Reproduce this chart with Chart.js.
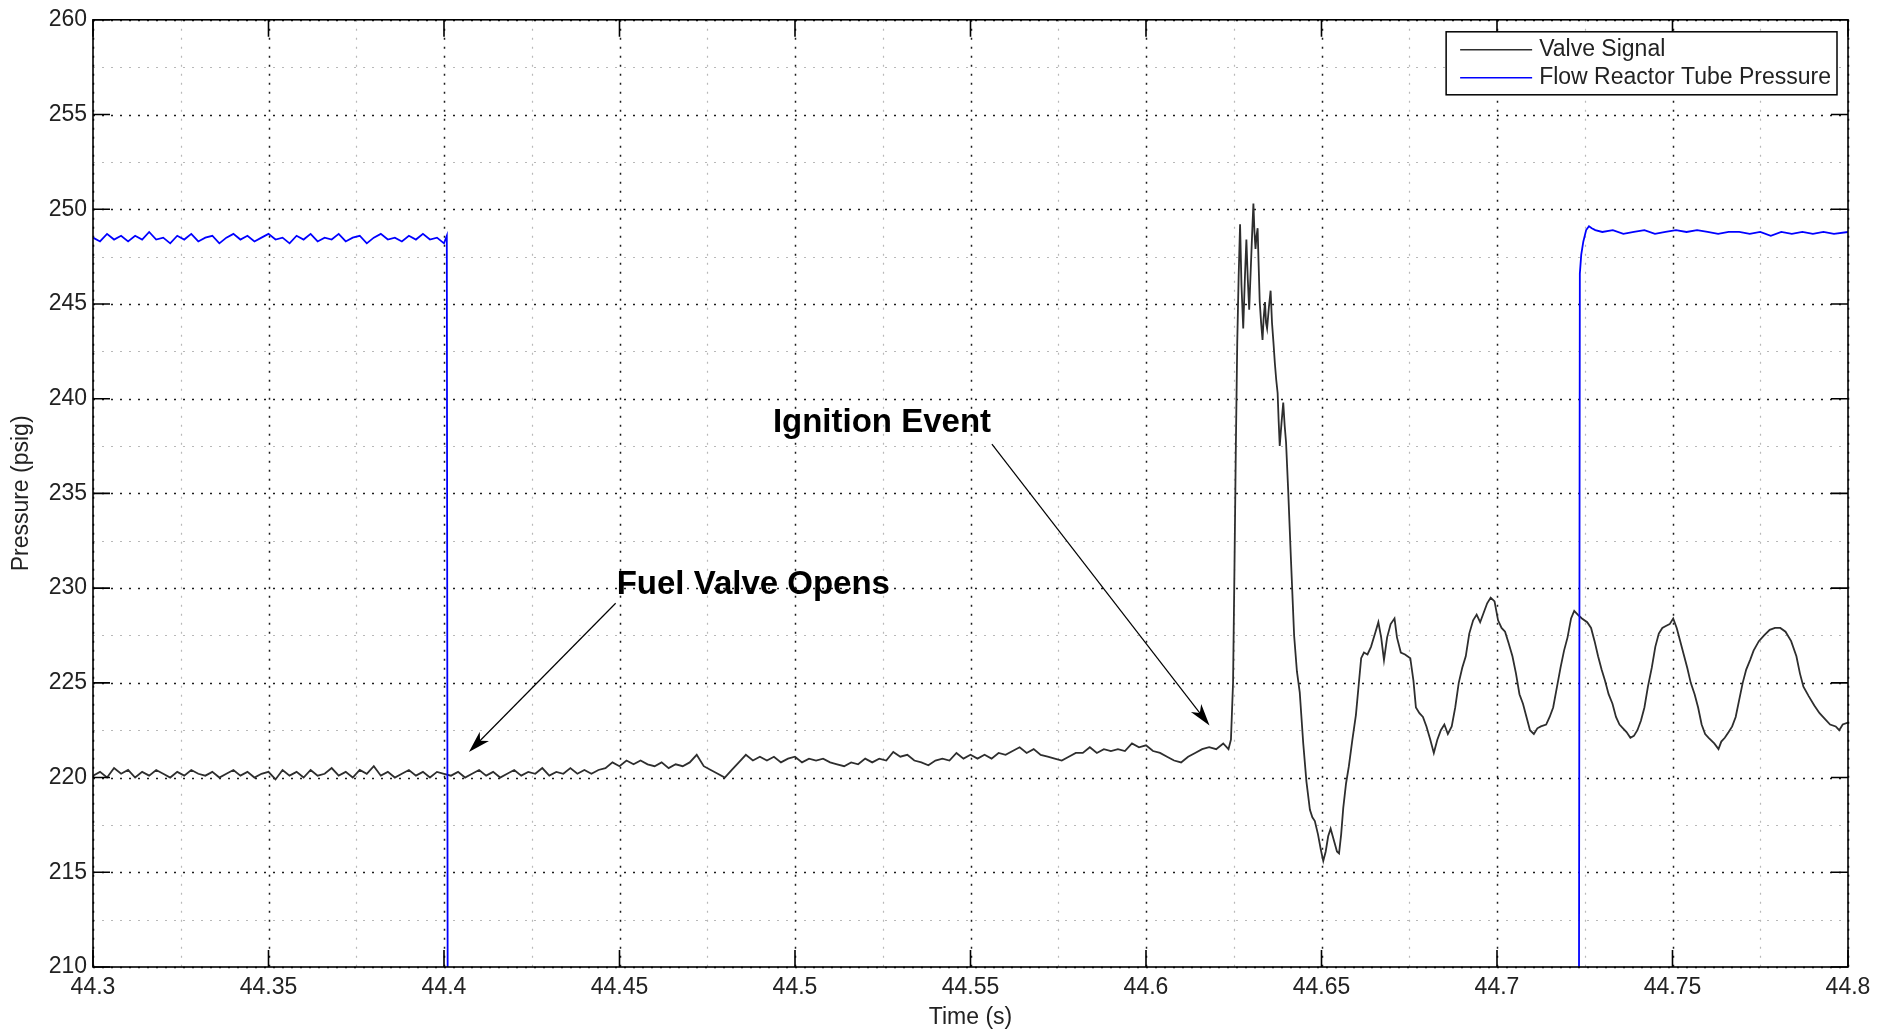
<!DOCTYPE html>
<html>
<head>
<meta charset="utf-8">
<title>Valve Signal / Flow Reactor Tube Pressure</title>
<script src="https://cdn.jsdelivr.net/npm/chart.js@4.4.0/dist/chart.umd.min.js"></script>
<style>
    html, body { margin: 0; padding: 0; background: #fff; }
    #wrap { width: 1892px; height: 1033px; }
</style>
</head>
<body>
<div id="wrap"><canvas id="pressureChart" width="1892" height="1033"></canvas></div>
<script>
// Valve signal (black trace) - time (s) and pressure (psig)
const valveTime = [
    44.300, 44.302, 44.304, 44.306, 44.308, 44.310, 44.312, 44.314, 44.316, 44.318,
    44.320, 44.322, 44.324, 44.326, 44.328, 44.330, 44.332, 44.334, 44.336, 44.338,
    44.340, 44.342, 44.344, 44.346, 44.348, 44.350, 44.352, 44.354, 44.356, 44.358,
    44.360, 44.362, 44.364, 44.366, 44.368, 44.370, 44.372, 44.374, 44.376, 44.378,
    44.380, 44.382, 44.384, 44.386, 44.388, 44.390, 44.392, 44.394, 44.396, 44.398,
    44.400, 44.402, 44.404, 44.406, 44.408, 44.410, 44.412, 44.414, 44.416, 44.418,
    44.420, 44.422, 44.424, 44.426, 44.428, 44.430, 44.432, 44.434, 44.436, 44.438,
    44.440, 44.442, 44.444, 44.446, 44.448, 44.450, 44.452, 44.454, 44.456, 44.458,
    44.460, 44.462, 44.464, 44.466, 44.468, 44.470, 44.472, 44.474, 44.476, 44.478,
    44.480, 44.482, 44.484, 44.486, 44.488, 44.490, 44.492, 44.494, 44.496, 44.498,
    44.500, 44.502, 44.504, 44.506, 44.508, 44.510, 44.512, 44.514, 44.516, 44.518,
    44.520, 44.522, 44.524, 44.526, 44.528, 44.530, 44.532, 44.534, 44.536, 44.538,
    44.540, 44.542, 44.544, 44.546, 44.548, 44.550, 44.552, 44.554, 44.556, 44.558,
    44.560, 44.562, 44.564, 44.566, 44.568, 44.570, 44.572, 44.574, 44.576, 44.578,
    44.580, 44.582, 44.584, 44.586, 44.588, 44.590, 44.592, 44.594, 44.596, 44.598,
    44.600, 44.602, 44.604, 44.606, 44.608, 44.610, 44.612, 44.614, 44.616, 44.618,
    44.620, 44.622, 44.6235, 44.6242, 44.6248, 44.6252, 44.6256, 44.6260, 44.6264, 44.6268,
    44.6272, 44.6277, 44.6282, 44.6286, 44.6290, 44.6294, 44.6299, 44.6303, 44.6306, 44.6309,
    44.6312, 44.6315, 44.6318, 44.6321, 44.6324, 44.6328, 44.6332, 44.6335, 44.6339, 44.6342,
    44.6345, 44.6350, 44.6355, 44.6359, 44.6363, 44.6367, 44.6371, 44.6375, 44.6378, 44.6381,
    44.6386, 44.6391, 44.6395, 44.6399, 44.6405, 44.6413, 44.6422, 44.6430, 44.6438, 44.6448,
    44.6457, 44.6467, 44.6474, 44.6481, 44.6490, 44.6498, 44.6505, 44.6512, 44.6519, 44.6526,
    44.6532, 44.6538, 44.6544, 44.6550, 44.6556, 44.6562, 44.6570, 44.6578, 44.6588, 44.6598,
    44.6606, 44.6613, 44.6621, 44.6631, 44.6641, 44.6654, 44.6662, 44.6670, 44.6678, 44.6687,
    44.6697, 44.6708, 44.6715, 44.6726, 44.6738, 44.6753, 44.6762, 44.6769, 44.6779, 44.6789,
    44.6799, 44.6810, 44.6820, 44.6830, 44.6840, 44.6850, 44.6860, 44.6871, 44.6881, 44.6891,
    44.6901, 44.6911, 44.6921, 44.6932, 44.6942, 44.6952, 44.6962, 44.6972, 44.6982, 44.6993,
    44.7003, 44.7013, 44.7023, 44.7033, 44.7044, 44.7054, 44.7064, 44.7074, 44.7084, 44.7094,
    44.7105, 44.7115, 44.7125, 44.7140, 44.7150, 44.7160, 44.7171, 44.7181, 44.7191, 44.7201,
    44.7211, 44.7220, 44.7230, 44.7242, 44.7257, 44.7268, 44.7278, 44.7288, 44.7298, 44.7308,
    44.7318, 44.7329, 44.7339, 44.7349, 44.7359, 44.7369, 44.7380, 44.7390, 44.7400, 44.7410,
    44.7420, 44.7430, 44.7441, 44.7451, 44.7461, 44.7471, 44.7481, 44.7492, 44.7502, 44.7512,
    44.7522, 44.7532, 44.7542, 44.7552, 44.7563, 44.7573, 44.7583, 44.7593, 44.7603, 44.7619,
    44.7631, 44.7639, 44.7649, 44.7660, 44.7670, 44.7680, 44.7690, 44.7700, 44.7710, 44.7721,
    44.7731, 44.7746, 44.7761, 44.7777, 44.7792, 44.7807, 44.7822, 44.7838, 44.7853, 44.7863,
    44.7873, 44.7888, 44.7904, 44.7919, 44.7934, 44.7949, 44.7965, 44.7975, 44.7985, 44.8000
];
const valvePsig = [
    220.1, 220.3, 220.0, 220.5, 220.2, 220.4, 220.0, 220.3, 220.1, 220.4,
    220.2, 220.0, 220.3, 220.1, 220.4, 220.2, 220.1, 220.3, 220.0, 220.2,
    220.4, 220.1, 220.3, 220.0, 220.2, 220.3, 219.9, 220.4, 220.1, 220.3,
    220.0, 220.4, 220.1, 220.2, 220.5, 220.1, 220.3, 220.0, 220.4, 220.2,
    220.6, 220.1, 220.3, 220.0, 220.2, 220.4, 220.1, 220.3, 220.0, 220.3,
    220.2, 220.1, 220.3, 220.0, 220.2, 220.4, 220.1, 220.3, 220.0, 220.2,
    220.4, 220.1, 220.3, 220.2, 220.5, 220.1, 220.3, 220.2, 220.5, 220.2,
    220.4, 220.2, 220.4, 220.5, 220.8, 220.6, 220.9, 220.7, 220.9, 220.7,
    220.6, 220.8, 220.5, 220.7, 220.6, 220.8, 221.2, 220.6, 220.4, 220.2,
    220.0, 220.4, 220.8, 221.2, 220.9, 221.1, 220.9, 221.1, 220.8, 221.0,
    221.1, 220.8, 221.0, 220.9, 221.0, 220.8, 220.7, 220.6, 220.8, 220.7,
    221.0, 220.8, 221.0, 220.9, 221.35, 221.1, 221.2, 220.9, 220.8, 220.65,
    220.9, 221.0, 220.9, 221.3, 221.0, 221.2, 221.0, 221.2, 221.0, 221.3,
    221.2, 221.4, 221.6, 221.3, 221.5, 221.2, 221.1, 221.0, 220.9, 221.1,
    221.3, 221.3, 221.6, 221.3, 221.5, 221.4, 221.5, 221.4, 221.8, 221.6,
    221.7, 221.4, 221.3, 221.1, 220.9, 220.8, 221.1, 221.3, 221.5, 221.6,
    221.5, 221.8, 221.5, 222.0, 225.0, 231.0, 237.5, 243.0, 246.5, 249.2,
    246.0, 243.7, 246.5, 248.4, 246.3, 244.7, 247.1, 249.0, 250.3, 248.8,
    247.9, 248.6, 249.0, 247.0, 245.1, 244.0, 243.1, 244.2, 245.1, 244.0,
    243.7, 244.8, 245.7, 244.0, 243.0, 241.9, 241.0, 240.3, 238.8, 237.5,
    238.7, 239.8, 238.6, 237.7, 235.2, 231.5, 227.5, 225.6, 224.5, 221.8,
    219.8, 218.3, 217.9, 217.7, 217.0, 216.2, 215.6, 216.1, 216.9, 217.3,
    216.9, 216.5, 216.1, 216.0, 217.0, 218.4, 219.7, 220.6, 222.0, 223.3,
    224.9, 226.3, 226.6, 226.5, 226.9, 227.7, 228.2, 227.4, 226.2, 227.4,
    228.1, 228.4, 227.4, 226.6, 226.5, 226.3, 225.1, 223.7, 223.4, 223.2,
    222.7, 222.0, 221.3, 222.0, 222.5, 222.8, 222.3, 222.7, 223.7, 225.0,
    225.8, 226.4, 227.6, 228.3, 228.6, 228.2, 228.7, 229.2, 229.5, 229.3,
    228.3, 227.9, 227.7, 227.1, 226.4, 225.5, 224.4, 223.9, 223.2, 222.5,
    222.3, 222.6, 222.7, 222.8, 223.2, 223.7, 224.8, 225.8, 226.7, 227.4,
    228.4, 228.8, 228.6, 228.4, 228.2, 227.9, 227.2, 226.4, 225.7, 225.1,
    224.4, 223.9, 223.2, 222.8, 222.6, 222.4, 222.1, 222.2, 222.5, 223.0,
    223.7, 224.8, 225.8, 226.9, 227.6, 227.9, 228.0, 228.1, 228.4, 227.9,
    227.2, 226.5, 225.8, 225.0, 224.4, 223.7, 222.8, 222.3, 222.1, 221.8,
    221.5, 221.9, 222.1, 222.4, 222.7, 223.2, 224.1, 225.0, 225.7, 226.2,
    226.7, 227.2, 227.5, 227.8, 227.9, 227.9, 227.7, 227.2, 226.4, 225.5,
    224.8, 224.3, 223.8, 223.4, 223.1, 222.8, 222.7, 222.5, 222.8, 222.9
];

// Flow reactor tube pressure (blue trace); drops below the axis between the two steps
const tubeTime = [
    44.300, 44.302, 44.304, 44.306, 44.308, 44.310, 44.312, 44.314, 44.316, 44.318,
    44.320, 44.322, 44.324, 44.326, 44.328, 44.330, 44.332, 44.334, 44.336, 44.338,
    44.340, 44.342, 44.344, 44.346, 44.348, 44.350, 44.352, 44.354, 44.356, 44.358,
    44.360, 44.362, 44.364, 44.366, 44.368, 44.370, 44.372, 44.374, 44.376, 44.378,
    44.380, 44.382, 44.384, 44.386, 44.388, 44.390, 44.392, 44.394, 44.396, 44.398,
    44.400, 44.4008, 44.4011, 44.7233, 44.7236, 44.7240, 44.7246, 44.7254, 44.7262, 44.7270,
    44.728, 44.730, 44.733, 44.736, 44.739, 44.742, 44.745, 44.748, 44.751, 44.754,
    44.757, 44.760, 44.763, 44.766, 44.769, 44.772, 44.775, 44.778, 44.781, 44.784,
    44.787, 44.790, 44.793, 44.796, 44.800
];
const tubePsig = [
    248.5, 248.3, 248.7, 248.4, 248.6, 248.3, 248.6, 248.4, 248.8, 248.4,
    248.5, 248.2, 248.6, 248.4, 248.7, 248.3, 248.5, 248.6, 248.2, 248.5,
    248.7, 248.4, 248.6, 248.3, 248.5, 248.7, 248.4, 248.5, 248.2, 248.6,
    248.4, 248.7, 248.3, 248.5, 248.4, 248.7, 248.3, 248.5, 248.6, 248.2,
    248.5, 248.7, 248.4, 248.5, 248.3, 248.6, 248.4, 248.7, 248.4, 248.5,
    248.2, 248.6, 200.0, 200.0, 246.6, 247.6, 248.3, 248.9, 249.1, 249.0,
    248.9, 248.8, 248.9, 248.7, 248.8, 248.9, 248.7, 248.8, 248.9, 248.8,
    248.9, 248.8, 248.7, 248.8, 248.8, 248.7, 248.8, 248.6, 248.8, 248.7,
    248.8, 248.7, 248.8, 248.7, 248.8
];

// Axis ticks
const xTicks = [44.3, 44.35, 44.4, 44.45, 44.5, 44.55, 44.6, 44.65, 44.7, 44.75, 44.8];
const xMinorTicks = [44.325, 44.375, 44.425, 44.475, 44.525, 44.575, 44.625, 44.675, 44.725, 44.775];
const yTicks = [210, 215, 220, 225, 230, 235, 240, 245, 250, 255, 260];
const yMinorTicks = [212.5, 217.5, 222.5, 227.5, 232.5, 237.5, 242.5, 247.5, 252.5, 257.5];

const FONT = '"Liberation Sans", Arial, Helvetica, sans-serif';

// Dotted MATLAB-style grid (major black, minor grey)
const dottedGrid = {
    id: 'dottedGrid',
    beforeDatasetsDraw(chart) {
        const { ctx, chartArea: a, scales: { x, y } } = chart;
        ctx.save();
        ctx.setLineDash([2, 7]);
        const vLine = v => { const px = Math.round(x.getPixelForValue(v)) + 0.5; ctx.moveTo(px, a.top); ctx.lineTo(px, a.bottom); };
        const hLine = v => { const py = Math.round(y.getPixelForValue(v)) + 0.5; ctx.moveTo(a.left, py); ctx.lineTo(a.right, py); };

        ctx.strokeStyle = '#b8b8b8';
        ctx.lineWidth = 1.2;
        ctx.beginPath();
        xMinorTicks.forEach(vLine);
        yMinorTicks.forEach(hLine);
        ctx.stroke();

        ctx.strokeStyle = '#1c1c1c';
        ctx.lineWidth = 1.5;
        ctx.beginPath();
        xTicks.forEach(vLine);
        yTicks.forEach(hLine);
        ctx.stroke();
        ctx.restore();
    }
};

// Box around the axes with inward tick marks
const axesBox = {
    id: 'axesBox',
    afterDatasetsDraw(chart) {
        const { ctx, chartArea: a, scales: { x, y } } = chart;
        const len = 17;
        ctx.save();
        ctx.strokeStyle = '#000';
        ctx.lineWidth = 1.6;
        ctx.strokeRect(a.left, a.top, a.right - a.left, a.bottom - a.top);
        ctx.beginPath();
        xTicks.forEach(v => {
            const px = x.getPixelForValue(v);
            ctx.moveTo(px, a.bottom); ctx.lineTo(px, a.bottom - len);
            ctx.moveTo(px, a.top); ctx.lineTo(px, a.top + len);
        });
        yTicks.forEach(v => {
            const py = y.getPixelForValue(v);
            ctx.moveTo(a.left, py); ctx.lineTo(a.left + len, py);
            ctx.moveTo(a.right, py); ctx.lineTo(a.right - len, py);
        });
        ctx.stroke();
        ctx.restore();
    }
};

// Boxed legend in the top right corner
const boxLegend = {
    id: 'boxLegend',
    afterDraw(chart) {
        const { ctx, chartArea: a } = chart;
        const sets = chart.data.datasets;
        ctx.save();
        ctx.font = '23px ' + FONT;
        const textW = Math.max(...sets.map(d => ctx.measureText(d.label).width));
        const w = 14 + 72 + 7 + textW + 6;
        const h = 63;
        const left = a.right - 11 - w;
        const top = a.top + 12;
        ctx.fillStyle = '#fff';
        ctx.fillRect(left, top, w, h);
        ctx.strokeStyle = '#000';
        ctx.lineWidth = 1.5;
        ctx.strokeRect(left, top, w, h);
        sets.forEach((d, i) => {
            const cy = top + 18 + i * 28;
            ctx.strokeStyle = d.borderColor;
            ctx.lineWidth = 1.5;
            ctx.beginPath();
            ctx.moveTo(left + 14, cy);
            ctx.lineTo(left + 86, cy);
            ctx.stroke();
            ctx.fillStyle = '#222';
            ctx.textBaseline = 'middle';
            ctx.textAlign = 'left';
            ctx.fillText(d.label, left + 93, cy);
        });
        ctx.restore();
    }
};

// Text callouts with arrows, placed in data units
const callouts = {
    id: 'callouts',
    afterDraw(chart, args, opts) {
        const { ctx, scales: { x, y } } = chart;
        ctx.save();
        ctx.fillStyle = '#000';
        ctx.strokeStyle = '#000';
        ctx.lineWidth = 1.2;
        opts.items.forEach(n => {
            ctx.font = 'bold 33px ' + FONT;
            ctx.textBaseline = 'middle';
            ctx.textAlign = 'left';
            ctx.fillText(n.text, x.getPixelForValue(n.at[0]), y.getPixelForValue(n.at[1]));

            const x1 = x.getPixelForValue(n.from[0]), y1 = y.getPixelForValue(n.from[1]);
            const x2 = x.getPixelForValue(n.to[0]), y2 = y.getPixelForValue(n.to[1]);
            const ang = Math.atan2(y2 - y1, x2 - x1);
            const L = 22, W = 6.5;
            ctx.beginPath();
            ctx.moveTo(x1, y1);
            ctx.lineTo(x2 - Math.cos(ang) * L * 0.7, y2 - Math.sin(ang) * L * 0.7);
            ctx.stroke();
            ctx.save();
            ctx.translate(x2, y2);
            ctx.rotate(ang);
            ctx.beginPath();
            ctx.moveTo(0, 0);
            ctx.lineTo(-L, -W);
            ctx.lineTo(-L * 0.72, 0);
            ctx.lineTo(-L, W);
            ctx.closePath();
            ctx.fill();
            ctx.restore();
        });
        ctx.restore();
    }
};

function toPoints(xs, ys) {
    return xs.map((t, i) => ({ x: t, y: ys[i] }));
}

function onList(list, v) {
    return list.some(t => Math.abs(t - v) < 1e-6);
}

const ctx = document.getElementById('pressureChart').getContext('2d');

new Chart(ctx, {
    type: 'line',
    data: {
        datasets: [
            {
                label: 'Valve Signal',
                data: toPoints(valveTime, valvePsig),
                borderColor: '#2e2e2e',
                borderWidth: 1.8,
                pointRadius: 0,
                tension: 0,
                order: 1
            },
            {
                label: 'Flow Reactor Tube Pressure',
                data: toPoints(tubeTime, tubePsig),
                borderColor: '#0000ff',
                borderWidth: 1.8,
                pointRadius: 0,
                tension: 0,
                order: 0
            }
        ]
    },
    options: {
        responsive: false,
        devicePixelRatio: 1,
        animation: false,
        events: [],
        layout: { padding: { top: 18, right: 44, bottom: 0, left: 0 } },
        scales: {
            x: {
                type: 'linear',
                min: 44.3,
                max: 44.8,
                afterFit: s => { s.height = 66; },
                afterBuildTicks: s => { s.ticks = xTicks.map(v => ({ value: v })); },
                grid: { display: false, drawTicks: false },
                border: { display: false },
                ticks: {
                    autoSkip: false,
                    maxRotation: 0,
                    padding: 7,
                    color: '#222',
                    font: { family: FONT, size: 23 },
                    callback: v => onList(xTicks, v) ? String(v) : ''
                },
                title: {
                    display: true,
                    text: 'Time (s)',
                    color: '#222',
                    font: { family: FONT, size: 23 },
                    padding: { top: 0, bottom: 2 }
                }
            },
            y: {
                type: 'linear',
                min: 210,
                max: 260,
                afterFit: s => { s.width = 93; },
                afterBuildTicks: s => { s.ticks = yTicks.map(v => ({ value: v })); },
                grid: { display: false, drawTicks: false },
                border: { display: false },
                ticks: {
                    autoSkip: false,
                    padding: 6,
                    color: '#222',
                    font: { family: FONT, size: 23 },
                    callback: v => onList(yTicks, v) ? String(v) : ''
                },
                title: {
                    display: true,
                    text: 'Pressure (psig)',
                    color: '#222',
                    font: { family: FONT, size: 23 },
                    padding: { top: 8, bottom: 0 }
                }
            }
        },
        plugins: {
            legend: { display: false },
            tooltip: { enabled: false },
            callouts: {
                items: [
                    { text: 'Ignition Event', at: [44.4937, 238.7], from: [44.5561, 237.6], to: [44.6181, 222.75] },
                    { text: 'Fuel Valve Opens', at: [44.4492, 230.15], from: [44.4489, 229.2], to: [44.4071, 221.35] }
                ]
            }
        }
    },
    plugins: [dottedGrid, axesBox, boxLegend, callouts]
});
</script>
</body>
</html>
